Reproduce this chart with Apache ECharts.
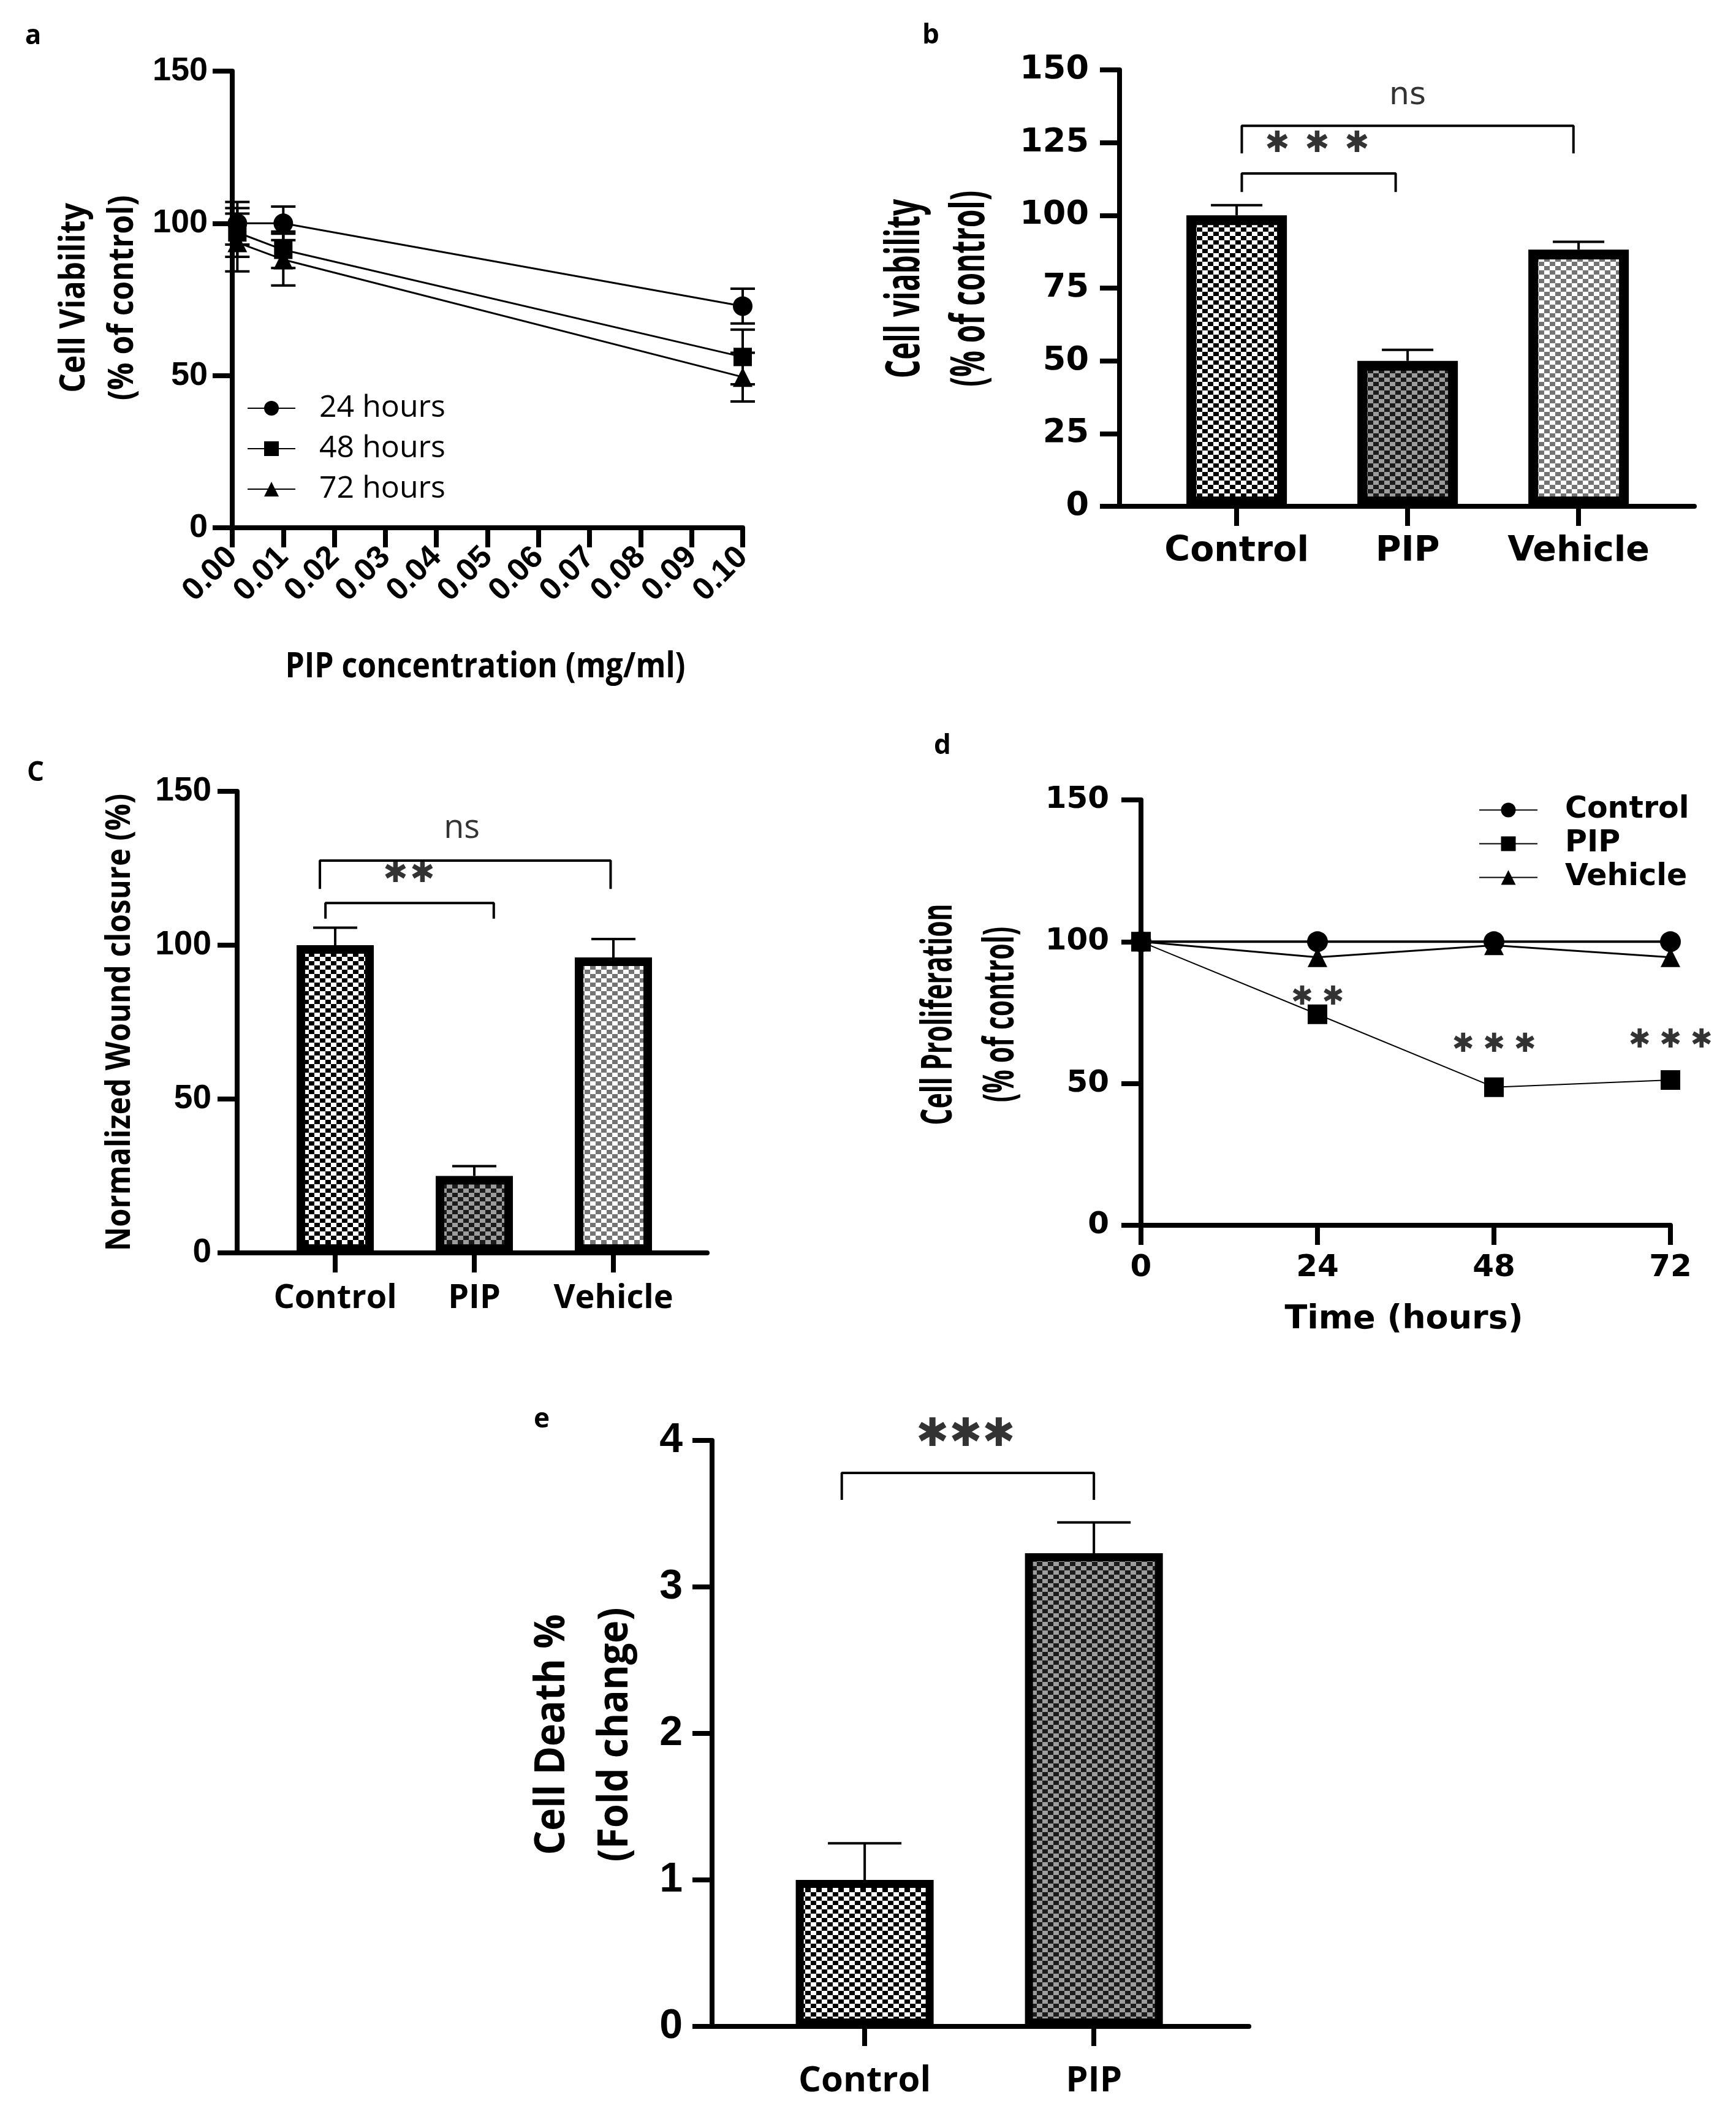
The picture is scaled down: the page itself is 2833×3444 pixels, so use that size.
<!DOCTYPE html>
<html>
<head>
<meta charset="utf-8">
<script src="https://cdn.jsdelivr.net/npm/echarts@6/dist/echarts.min.js"></script>
<style>
html,body{margin:0;padding:0;background:#fff;}
#main{width:2833px;height:3444px;}
</style>
</head>
<body>
<div id="main"></div>
<script>
// panel a - viability vs concentration
var concX = [0.001, 0.01, 0.1];
var via24 = [100, 100, 72.8];
var err24 = [7, 5.5, 5.7];
var via48 = [97, 91.3, 56.1];
var err48 = [8, 6, 9];
var via72 = [93.7, 88.1, 49.5];
var err72 = [9.5, 8.5, 8];

// panel b - viability bars
var bCats = ['Control', 'PIP', 'Vehicle'];
var bVals = [100, 50, 88.2];
var bErr = [3.5, 3.8, 2.7];

// panel c - wound closure
var cCats = ['Control', 'PIP', 'Vehicle'];
var cVals = [100, 25, 96];
var cErr = [5.7, 3.2, 6.0];

// panel d - proliferation over time
var hours = [0, 24, 48, 72];
var dControl = [100, 100, 100, 100];
var dPIP = [100, 74.4, 48.7, 51.2];
var dVehicle = [100, 94.5, 98.7, 94.5];

// panel e - cell death
var eCats = ['Control', 'PIP'];
var eVals = [1.0, 3.23];
var eErr = [0.25, 0.21];

var CAL = "'Open Sans', 'Noto Sans', sans-serif";
var ARB = "'Liberation Sans', Arial, sans-serif";
var VER = "'DejaVu Sans', Verdana, sans-serif";

function checker(c1, c2, w, h){
  var cv = document.createElement('canvas');
  cv.width = w*2; cv.height = h*2;
  var ctx = cv.getContext('2d');
  ctx.fillStyle = c2; ctx.fillRect(0,0,w*2,h*2);
  ctx.fillStyle = c1;
  ctx.fillRect(0,0,w,h); ctx.fillRect(w,h,w,h);
  return {image: cv, repeat: 'repeat'};
}
var patDark = checker('#000', '#fff', 9, 7);
var patMid = checker('#1c1c1c', '#9c9c9c', 9, 7);
var patLight = checker('#747474', '#fff', 9, 7);

function pair(xs, ys){ var out=[]; for (var i=0;i<xs.length;i++) out.push([xs[i], ys[i]]); return out; }
function triple(xs, ys, es){ var out=[]; for (var i=0;i<xs.length;i++) out.push([xs[i], ys[i], es[i]]); return out; }
function idx(n){ var out=[]; for (var i=0;i<n;i++) out.push(i); return out; }

function errRender(cap, both){
  return function(params, api){
    var x = api.value(0), y = api.value(1), e = api.value(2);
    var top = api.coord([x, y+e]);
    var bot = api.coord([x, both ? y-e : y]);
    function ln(x1,y1,x2,y2){ return {type:'line', shape:{x1:x1,y1:y1,x2:x2,y2:y2}, style:{stroke:'#000', lineWidth:4}}; }
    var ch = [ln(top[0],top[1],bot[0],bot[1]), ln(top[0]-cap,top[1],top[0]+cap,top[1])];
    if (both) ch.push(ln(bot[0]-cap,bot[1],bot[0]+cap,bot[1]));
    return {type:'group', children: ch};
  };
}

function yAx(g, max, step, font, size, margin){
  return {
    gridIndex: g, type:'value', min:0, max:max, interval:step,
    axisLine:{show:true, onZero:false, lineStyle:{color:'#000', width:8}},
    axisTick:{show:true, length:32, lineStyle:{color:'#000', width:8}},
    splitLine:{show:false},
    axisLabel:{color:'#000', fontFamily:font, fontWeight:'bold', fontSize:size, margin:margin}
  };
}
function catX(g, min, max, cats, font, size, margin){
  return {
    gridIndex: g, type:'value', min:min, max:max,
    axisLine:{show:true, onZero:false, lineStyle:{color:'#000', width:8}},
    axisTick:{show:true, length:32, customValues: idx(cats.length), lineStyle:{color:'#000', width:8}},
    splitLine:{show:false},
    axisLabel:{color:'#000', fontFamily:font, fontWeight:'bold', fontSize:size, margin:margin,
      customValues: idx(cats.length),
      formatter:function(v){ return cats[Math.round(v)]; }}
  };
}
function bars(g, vals, pats, bw, bord){
  var d = [];
  for (var i=0;i<vals.length;i++) d.push({value:[i, vals[i]], itemStyle:{color:pats[i]}});
  return {type:'bar', name:'bars'+g, xAxisIndex:g, yAxisIndex:g, data:d, barWidth:bw,
    itemStyle:{borderColor:'#000', borderWidth:bord}, silent:true};
}
function bracket(g, pts){
  return {type:'line', xAxisIndex:g, yAxisIndex:g, data:pts, symbol:'none', silent:true,
    lineStyle:{color:'#000', width:4}, z:5};
}
function notes(g, pts, texts, font, size, weight){
  return {type:'scatter', xAxisIndex:g, yAxisIndex:g, data:pts, symbolSize:1, silent:true, clip:false,
    itemStyle:{color:'rgba(0,0,0,0)'},
    label:{show:true, position:'inside', color:'#000', textBorderWidth:0, fontFamily:font, fontSize:size, fontWeight:weight,
      formatter:function(p){ return texts[p.dataIndex % texts.length]; }}, z:6};
}
// significance stars: n heavy asterisks centred on (cx, cy), step in axis units
function stars(g, cx, cy, n, step, size){
  var pts = [];
  for (var i=0;i<n;i++) pts.push([cx + (i-(n-1)/2)*step, cy]);
  return notes(g, pts, ['\u2731'], VER, size, 'normal');
}
function lineSer(g, name, pts, sym, size, w){
  return {type:'line', name:name, xAxisIndex:g, yAxisIndex:g, data:pts, symbol:sym, symbolSize:size,
    itemStyle:{color:'#000'}, lineStyle:{color:'#000', width:w}, z:4, silent:true};
}
function vtext(x, y, text, size, sx){
  return {type:'text', x:x, y:y, rotation:Math.PI/2, scaleX:sx,
    style:{text:text, fill:'#000', font:'bold '+size+'px '+CAL, textAlign:'center', textVerticalAlign:'middle'}};
}
function htext(x, y, text, size, sx, font){
  return {type:'text', x:x, y:y, scaleX:sx,
    style:{text:text, fill:'#000', font:'bold '+size+'px '+(font||CAL), textAlign:'center', textVerticalAlign:'middle'}};
}

var chart = echarts.init(document.getElementById('main'), null, {width:2833, height:3444});

var option = {
  animation:false,
  backgroundColor:'#fff',
  grid:[
    {left:379, top:116, width:833, height:745},
    {left:1827, top:114, width:938, height:712},
    {left:387, top:1291, width:767, height:753},
    {left:1862, top:1305, width:864, height:694},
    {left:1162, top:2350, width:876, height:956}
  ],
  xAxis:[
    {gridIndex:0, type:'value', min:0, max:0.1, interval:0.01,
      axisLine:{show:true, onZero:false, lineStyle:{color:'#000', width:8}},
      axisTick:{show:true, length:32, lineStyle:{color:'#000', width:8}},
      splitLine:{show:false},
      axisLabel:{color:'#000', fontFamily:ARB, fontWeight:'bold', fontSize:52, rotate:45, margin:40,
        formatter:function(v){ return v.toFixed(2); }}},
    catX(1, -0.685, 2.677, bCats, VER, 57, 46),
    catX(2, -0.705, 2.674, cCats, CAL, 54, 48),
    {gridIndex:3, type:'value', min:0, max:72, interval:24,
      axisLine:{show:true, onZero:false, lineStyle:{color:'#000', width:8}},
      axisTick:{show:true, length:32, lineStyle:{color:'#000', width:8}},
      splitLine:{show:false},
      axisLabel:{color:'#000', fontFamily:VER, fontWeight:'bold', fontSize:50, margin:45}},
    catX(4, -0.666, 1.676, eCats, CAL, 58, 60)
  ],
  yAxis:[
    yAx(0, 150, 50, ARB, 54, 40),
    yAx(1, 150, 25, VER, 54, 50),
    yAx(2, 150, 50, ARB, 55, 42),
    yAx(3, 150, 50, VER, 50, 52),
    yAx(4, 4, 1, ARB, 68, 48)
  ],
  legend:[
    {data:['24 hours','48 hours','72 hours'], orient:'vertical', left:398, top:634, itemWidth:78, itemHeight:30,
      itemGap:12, selectedMode:false,
      textStyle:{color:'#000', fontFamily:CAL, fontSize:50, lineHeight:54, padding:[0,0,0,34]}},
    {data:['Control','PIP','Vehicle'], orient:'vertical', left:2408, top:1292, itemWidth:95, itemHeight:30,
      itemGap:6, selectedMode:false,
      textStyle:{color:'#000', fontFamily:VER, fontWeight:'bold', fontSize:49, lineHeight:44, padding:[0,0,0,40]}}
  ],
  graphic:[
    htext(54, 59, 'a', 44, 1),
    htext(1519, 58, 'b', 44, 1),
    htext(58, 1261, 'C', 44, 1),
    htext(1538, 1217, 'd', 44, 1),
    htext(884, 2316, 'e', 44, 1),
    vtext(121, 486, 'Cell Viability', 58, 0.86),
    vtext(200, 486, '(% of control)', 58, 0.86),
    htext(792, 1088, 'PIP concentration (mg/ml)', 58, 0.86),
    vtext(1478, 471, 'Cell viability', 77, 0.62),
    vtext(1584, 471, '(% of control)', 77, 0.62),
    vtext(196, 1668, 'Normalized Wound closure (%)', 56, 0.87),
    vtext(1533, 1655, 'Cell Proliferation', 70, 0.61),
    vtext(1634, 1655, '(% of control)', 70, 0.61),
    htext(2291, 2153, 'Time (hours)', 54, 1, VER),
    vtext(902, 2830, 'Cell Death %', 68, 0.92),
    vtext(1005, 2830, '(Fold change)', 68, 0.92)
  ],
  series:[
    // a
    lineSer(0, '24 hours', pair(concX, via24), 'circle', 32, 3),
    lineSer(0, '48 hours', pair(concX, via48), 'rect', 30, 3),
    lineSer(0, '72 hours', pair(concX, via72), 'triangle', 32, 3),
    {type:'custom', xAxisIndex:0, yAxisIndex:0, renderItem:errRender(20, true), data:triple(concX, via24, err24), encode:{x:0, y:1}, silent:true, z:3},
    {type:'custom', xAxisIndex:0, yAxisIndex:0, renderItem:errRender(20, true), data:triple(concX, via48, err48), encode:{x:0, y:1}, silent:true, z:3},
    {type:'custom', xAxisIndex:0, yAxisIndex:0, renderItem:errRender(20, true), data:triple(concX, via72, err72), encode:{x:0, y:1}, silent:true, z:3},
    // b
    {type:'custom', xAxisIndex:1, yAxisIndex:1, renderItem:errRender(42, false), data:triple(idx(3), bVals, bErr), encode:{x:0, y:1}, silent:true, z:1},
    bars(1, bVals, [patDark, patMid, patLight], 164, 16),
    bracket(1, [[0.03,108],[0.03,114.4],[0.93,114.4],[0.93,108]]),
    bracket(1, [[0.03,121.3],[0.03,130.8],[1.97,130.8],[1.97,121.3]]),
    stars(1, 0.47, 124.5, 3, 0.233, 48),
    notes(1, [[1.0,141]], ['ns'], VER, 52, 'normal'),
    // c
    {type:'custom', xAxisIndex:2, yAxisIndex:2, renderItem:errRender(36, false), data:triple(idx(3), cVals, cErr), encode:{x:0, y:1}, silent:true, z:1},
    bars(2, cVals, [patDark, patMid, patLight], 126, 14),
    bracket(2, [[-0.07,108.6],[-0.07,113.7],[1.14,113.7],[1.14,108.6]]),
    bracket(2, [[-0.11,118.3],[-0.11,127.5],[1.98,127.5],[1.98,118.3]]),
    stars(2, 0.53, 123, 2, 0.194, 48),
    notes(2, [[0.91,138]], ['ns'], CAL, 54, 'normal'),
    // d
    lineSer(3, 'Control', pair(hours, dControl), 'circle', 34, 4),
    lineSer(3, 'PIP', pair(hours, dPIP), 'rect', 32, 2),
    lineSer(3, 'Vehicle', pair(hours, dVehicle), 'triangle', 32, 3),
    stars(3, 24, 80.2, 2, 4.2, 43),
    stars(3, 48, 63.5, 3, 4.2, 43),
    stars(3, 72, 65, 3, 4.2, 43),
    // e
    {type:'custom', xAxisIndex:4, yAxisIndex:4, renderItem:errRender(60, false), data:triple(idx(2), eVals, eErr), encode:{x:0, y:1}, silent:true, z:1},
    bars(4, eVals, [patDark, patMid], 225, 13),
    bracket(4, [[-0.10,3.594],[-0.10,3.778],[1.0,3.778],[1.0,3.594]]),
    stars(4, 0.44, 4.03, 3, 0.145, 64)
  ]
};
chart.setOption(option);
</script>
</body>
</html>
